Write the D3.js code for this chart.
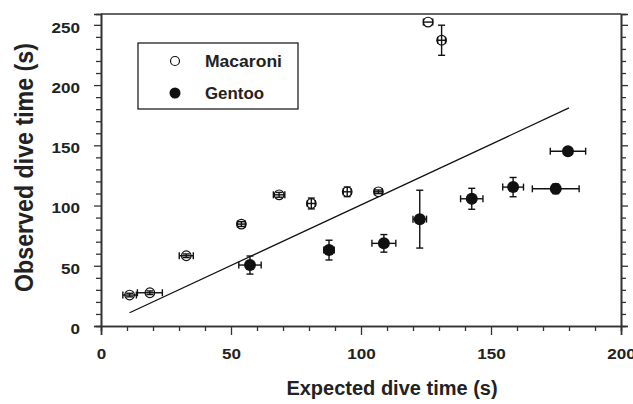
<!DOCTYPE html>
<html>
<head>
<meta charset="utf-8">
<script src="https://cdn.jsdelivr.net/npm/d3@7"></script>
<style>
  body { margin: 0; background: #fff; }
  text { font-family: "Liberation Sans", Arial, sans-serif; font-weight: bold; fill: #222; }
</style>
</head>
<body>
<svg width="633" height="404"></svg>
<script>
// Macaroni: expected, observed, x error, y error
const macX    = [11, 18.8, 32.8, 54, 68.5, 80.9, 94.7, 106.7, 125.8, 131]
const macY    = [25.7, 27.6, 58.3, 84.6, 108.9, 101.7, 111.4, 111.4, 252.3, 237.2]
const macXErr = [2.6, 4.8, 2.7, 1.5, 2.2, 1.5, 1.5, 1.5, 1.8, 1.5]
const macYErr = [1.5, 1.5, 1.5, 2, 2, 4.5, 4, 1.5, 0, 12.5]

// Gentoo
const genX    = [57.3, 87.7, 108.8, 122.6, 142.6, 158.5, 174.9, 179.6]
const genY    = [50.6, 63, 68.6, 88.7, 105.6, 115.3, 113.9, 145.1]
const genXErr = [4.3, 2, 4.6, 2.6, 4.3, 4, 9, 6.8]
const genYErr = [7.5, 8.2, 7.3, 24, 8.7, 8, 4, 2]

// 1:1 line
const lineX = [11, 180]
const lineY = [11, 181]

const xTicks = [0, 50, 100, 150, 200]
const yTicks = [0, 50, 100, 150, 200, 250]

let svg = d3.select('svg')

let x = d3.scaleLinear().domain([0, 200]).range([101, 621])
let y = d3.scaleLinear().domain([0, 259]).range([326, 14])

let axisColor = '#333'

// frame top
svg.append('line').attr('x1', x(0)).attr('x2', x(200)).attr('y1', y(259)).attr('y2', y(259))
    .attr('stroke', axisColor).attr('stroke-width', 1.6)

// minor ticks every 10
let minorX = d3.range(0, 201, 10).filter(d => d % 50 != 0)
let minorY = d3.range(0, 259, 10).filter(d => d % 50 != 0)

let bottom = svg.append('g').attr('transform', 'translate(0,' + y(0) + ')')
bottom.call(d3.axisBottom(x).tickValues(minorX).tickSize(5).tickFormat(''))
bottom.append('g').call(d3.axisBottom(x).tickValues(xTicks).tickSize(9).tickPadding(14))

let left = svg.append('g').attr('transform', 'translate(' + x(0) + ',0)')
left.call(d3.axisLeft(y).tickValues(minorY).tickSize(5).tickFormat(''))
left.append('g').call(d3.axisLeft(y).tickValues(yTicks).tickSize(7).tickPadding(14))

let right = svg.append('g').attr('transform', 'translate(' + x(200) + ',0)')
right.call(d3.axisRight(y).tickValues(minorY).tickSize(5).tickFormat(''))
right.append('g').call(d3.axisRight(y).tickValues(yTicks).tickSize(7).tickFormat(''))

svg.selectAll('.domain').attr('stroke', axisColor).attr('stroke-width', 1.6)
svg.selectAll('.tick line').attr('stroke', axisColor).attr('stroke-width', 1.3)
svg.selectAll('.tick text').attr('font-size', 14.5).attr('fill', '#222')
    .attr('font-family', '"Liberation Sans", Arial, sans-serif').attr('font-weight', 'bold')
    .attr('textLength', function () { return this.textContent.length * 9.5 })
    .attr('lengthAdjust', 'spacingAndGlyphs')
left.selectAll('.tick text').attr('dy', '0.5em')

// 1:1 line
svg.append('path')
    .datum(lineX.map((d, i) => [d, lineY[i]]))
    .attr('d', d3.line().x(d => x(d[0])).y(d => y(d[1])))
    .attr('stroke', '#111').attr('stroke-width', 1.3).attr('fill', 'none')

function errorBars(xs, ys, xe, ye) {
    let g = svg.append('g').attr('stroke', '#111').attr('stroke-width', 1.4)
    let cap = 3.5
    xs.forEach((d, i) => {
        if (xe[i] > 0) {
            g.append('line').attr('x1', x(d - xe[i])).attr('x2', x(d + xe[i])).attr('y1', y(ys[i])).attr('y2', y(ys[i]))
            g.append('line').attr('x1', x(d - xe[i])).attr('x2', x(d - xe[i])).attr('y1', y(ys[i]) - cap).attr('y2', y(ys[i]) + cap)
            g.append('line').attr('x1', x(d + xe[i])).attr('x2', x(d + xe[i])).attr('y1', y(ys[i]) - cap).attr('y2', y(ys[i]) + cap)
        }
        if (ye[i] > 0) {
            g.append('line').attr('x1', x(d)).attr('x2', x(d)).attr('y1', y(ys[i] - ye[i])).attr('y2', y(ys[i] + ye[i]))
            g.append('line').attr('x1', x(d) - cap).attr('x2', x(d) + cap).attr('y1', y(ys[i] - ye[i])).attr('y2', y(ys[i] - ye[i]))
            g.append('line').attr('x1', x(d) - cap).attr('x2', x(d) + cap).attr('y1', y(ys[i] + ye[i])).attr('y2', y(ys[i] + ye[i]))
        }
    })
}

// gentoo: bars behind filled dots
errorBars(genX, genY, genXErr, genYErr)
svg.append('g').selectAll('circle')
    .data(genX)
    .enter()
    .append('circle')
    .attr('cx', d => x(d))
    .attr('cy', (d, i) => y(genY[i]))
    .attr('r', 6)
    .attr('fill', '#111')

// macaroni: open circles with bars drawn through them
svg.append('g').selectAll('circle')
    .data(macX)
    .enter()
    .append('circle')
    .attr('cx', d => x(d))
    .attr('cy', (d, i) => y(macY[i]))
    .attr('r', 4.8)
    .attr('fill', 'white')
    .attr('stroke', '#111')
    .attr('stroke-width', 1.2)
errorBars(macX, macY, macXErr, macYErr)

// legend
let legend = svg.append('g')
legend.append('rect').attr('x', 138).attr('y', 43).attr('width', 160).attr('height', 66)
    .attr('fill', 'white').attr('stroke', '#222').attr('stroke-width', 1.3)
legend.append('circle').attr('cx', 175).attr('cy', 61).attr('r', 4.5)
    .attr('fill', 'white').attr('stroke', '#111').attr('stroke-width', 1.2)
legend.append('circle').attr('cx', 175).attr('cy', 93).attr('r', 5.5).attr('fill', '#111')
legend.append('text').attr('x', 205).attr('y', 67).attr('font-size', 16)
    .attr('textLength', 77).attr('lengthAdjust', 'spacingAndGlyphs').text('Macaroni')
legend.append('text').attr('x', 205).attr('y', 99).attr('font-size', 16)
    .attr('textLength', 59).attr('lengthAdjust', 'spacingAndGlyphs').text('Gentoo')

// axis titles
svg.append('text').attr('x', 392).attr('y', 395).attr('text-anchor', 'middle')
    .attr('font-size', 20).text('Expected dive time (s)')
svg.append('text').attr('transform', 'translate(33,167.5) rotate(-90)').attr('text-anchor', 'middle')
    .attr('font-size', 26).attr('textLength', 249).attr('lengthAdjust', 'spacingAndGlyphs')
    .text('Observed dive time (s)')
</script>
</body>
</html>
